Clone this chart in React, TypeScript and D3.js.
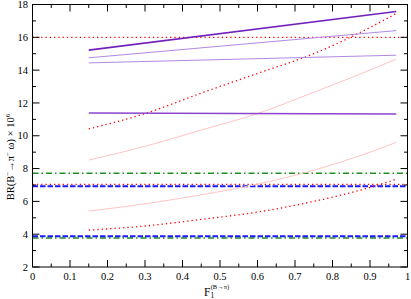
import React from 'react';
import * as d3 from 'd3';

// F1(B->pi) values where the curves are sampled
const fValues = [0.15, 0.3, 0.45, 0.6, 0.75, 0.9, 0.97];
const redDotUpper = [10.42, 11.35, 12.6, 13.8, 15.0, 16.6, 17.45];
const pinkUpper = [8.52, 9.35, 10.35, 11.35, 12.65, 14.0, 14.67];
const pinkLower = [5.41, 5.85, 6.4, 7.05, 7.9, 9.0, 9.6];
const redDotLower = [4.25, 4.5, 4.9, 5.35, 6.0, 6.85, 7.35];

// straight purple lines, sampled at the two ends
const fEnds = [0.15, 0.97];
const purpleTop = [15.22, 17.57];
const purpleMid = [14.75, 16.41];
const purpleLow = [14.44, 14.91];
const purpleFlat = [11.39, 11.33];

// horizontal reference values
const redRefs = [16.0, 7.04];
const greenRefs = [7.71, 3.77];
const blueRefs = [6.92, 3.87];

const xTickValues = [0, 0.1, 0.2, 0.3, 0.4, 0.5, 0.6, 0.7, 0.8, 0.9, 1];
const xMinorValues = [0.05, 0.15, 0.25, 0.35, 0.45, 0.55, 0.65, 0.75, 0.85, 0.95];
const yTickValues = [2, 4, 6, 8, 10, 12, 14, 16, 18];
const yMinorValues = [3, 5, 7, 9, 11, 13, 15, 17];

const W = 411;
const H = 299;
const left = 32.5, right = 407.5, top = 4.5, bottom = 267;

const font = "'Liberation Serif', 'Times New Roman', 'DejaVu Serif', serif";

export default function App() {
  const x = d3.scaleLinear().domain([0, 1]).range([left, right]);
  const y = d3.scaleLinear().domain([2, 18]).range([bottom, top]);

  const line = d3.line<[number, number]>()
    .x(d => x(d[0]))
    .y(d => y(d[1]))
    .curve(d3.curveMonotoneX);

  const curve = (xs: number[], ys: number[]) => line(xs.map((v, i) => [v, ys[i]]) as [number, number][]) || '';
  const hpath = (v: number) => line([[0, v], [1, v]]) || '';

  const fmt = (v: number) => (v === 0 ? '0' : v === 1 ? '1' : d3.format('.1f')(v));

  return (
    <svg width={W} height={H} style={{ position: 'absolute', left: 0, top: 0, fontFamily: font }}>
      <rect width={W} height={H} fill="#fff" />
      <defs>
        <clipPath id="plot">
          <rect x={left} y={top} width={right - left} height={bottom - top} />
        </clipPath>
      </defs>

      <g clipPath="url(#plot)" fill="none">
        {greenRefs.map((v, i) => (
          <path key={'g' + i} d={hpath(v)} stroke="#1f8f1f" strokeWidth={1.5} strokeDasharray="6,3,1.5,3" />
        ))}
        {blueRefs.map((v, i) => (
          <path key={'b' + i} d={hpath(v)} stroke="#1a1aff" strokeWidth={2} strokeDasharray="5.5,2" />
        ))}
        {redRefs.map((v, i) => (
          <path key={'r' + i} d={hpath(v)} stroke="#ff0000" strokeWidth={1.2} strokeDasharray="1.3,3" />
        ))}

        <path d={curve(fValues, pinkUpper)} stroke="#ffc4c4" strokeWidth={1} />
        <path d={curve(fValues, pinkLower)} stroke="#ffc4c4" strokeWidth={1} />
        <path d={curve(fValues, redDotUpper)} stroke="#ff0000" strokeWidth={1.3} strokeDasharray="1.3,3" />
        <path d={curve(fValues, redDotLower)} stroke="#ff0000" strokeWidth={1.3} strokeDasharray="1.3,3" />

        <path d={curve(fEnds, purpleTop)} stroke="#7221bc" strokeWidth={1.6} />
        <path d={curve(fEnds, purpleMid)} stroke="#b08ae2" strokeWidth={1} />
        <path d={curve(fEnds, purpleLow)} stroke="#b08ae2" strokeWidth={1} />
        <path d={curve(fEnds, purpleFlat)} stroke="#8a45cc" strokeWidth={1.6} />
      </g>

      {/* frame and ticks */}
      <rect x={left} y={top} width={right - left} height={bottom - top} fill="none" stroke="#000" strokeWidth={1} />
      <g stroke="#000" strokeWidth={1}>
        {xTickValues.map(v => (
          <g key={'xt' + v}>
            <line x1={x(v)} x2={x(v)} y1={bottom} y2={bottom - 7} />
            <line x1={x(v)} x2={x(v)} y1={top} y2={top + 7} />
          </g>
        ))}
        {xMinorValues.map(v => (
          <g key={'xm' + v}>
            <line x1={x(v)} x2={x(v)} y1={bottom} y2={bottom - 3.5} />
            <line x1={x(v)} x2={x(v)} y1={top} y2={top + 3.5} />
          </g>
        ))}
        {yTickValues.map(v => (
          <g key={'yt' + v}>
            <line x1={left} x2={left + 7} y1={y(v)} y2={y(v)} />
            <line x1={right} x2={right - 7} y1={y(v)} y2={y(v)} />
          </g>
        ))}
        {yMinorValues.map(v => (
          <g key={'ym' + v}>
            <line x1={left} x2={left + 3.5} y1={y(v)} y2={y(v)} />
            <line x1={right} x2={right - 3.5} y1={y(v)} y2={y(v)} />
          </g>
        ))}
      </g>

      <g fontSize={10.5} fill="#000">
        {xTickValues.map(v => (
          <text key={'xl' + v} x={x(v)} y={280} textAnchor="middle" style={{ fontFamily: font }}>{fmt(v)}</text>
        ))}
        {yTickValues.map(v => (
          <text key={'yl' + v} x={28} y={y(v) + 3.6} textAnchor="end" style={{ fontFamily: font }}>{v}</text>
        ))}
      </g>

      {/* x-axis title */}
      <text x={204} y={296} style={{ fontFamily: font }} fontSize={11.5}>
        F
        <tspan fontSize={7.5} dy={1.5}>1</tspan>
        <tspan fontSize={6.5} dx={-3.5} dy={-8.5}>(B→π)</tspan>
      </text>

      {/* y-axis title */}
      <text transform="translate(14,157) rotate(-90)" textAnchor="middle" style={{ fontFamily: font }} fontSize={10.5}>
        BR(B<tspan fontSize={7} dy={-4}>−</tspan><tspan dy={4}>→π</tspan><tspan fontSize={7} dy={-4}>−</tspan><tspan dy={4}> ω) × 10</tspan><tspan fontSize={7} dy={-4.5}>6</tspan>
      </text>
    </svg>
  );
}
